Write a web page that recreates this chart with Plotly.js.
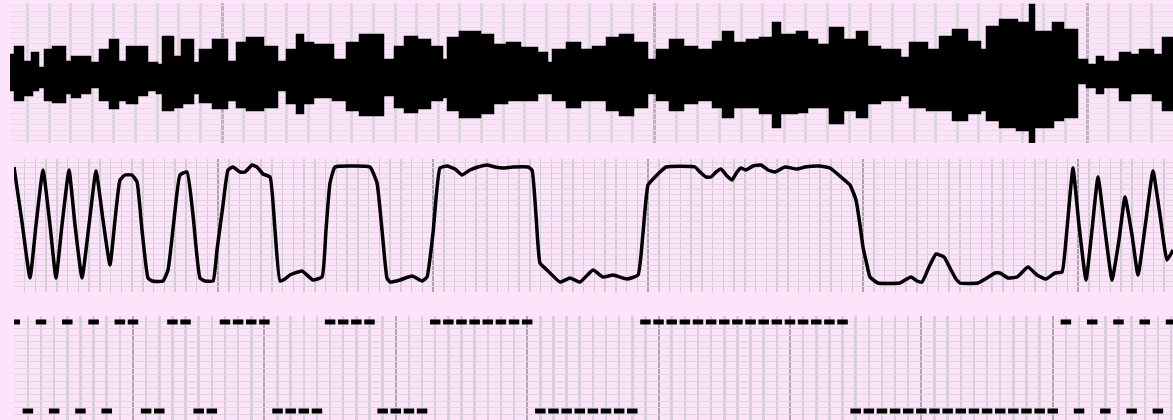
<!DOCTYPE html>
<html>
<head>
<meta charset="utf-8">
<script src="https://cdn.plot.ly/plotly-3.0.1.min.js"></script>
<style>
html,body{margin:0;padding:0;background:#fce4fb;}
#chart{width:1173px;height:420px;}
</style>
</head>
<body>
<div id="chart"></div>
<script>
// ---------- Panel 1: snoring / sound envelope (sample index, amplitude) ----------
const snoreT = [10,15,23,32,38,45,53,65,72,80,90,100,110,118,127,137,147,157,163,173,182,193,200,213,227,237,247,263,277,287,297,303,313,333,347,360,383,395,405,417,430,442,448,460,480,493,507,520,537,547,553,567,580,593,607,620,633,647,657,670,683,697,713,723,733,747,760,773,780,797,807,817,830,843,857,867,880,900,910,927,940,953,967,980,987,1000,1017,1030,1034,1053,1063,1077,1087,1097,1103,1120,1130,1140,1153,1163,1173];
const snoreUpper = [21,29,14,23,8,26,29,14,19,19,13,26,36,14,29,29,13,11,39,19,36,13,26,36,14,33,38,29,14,26,41,33,31,16,33,41,16,29,39,36,29,16,38,44,41,31,33,28,23,13,26,33,26,29,38,41,33,16,26,36,29,26,34,44,33,36,38,53,41,44,36,31,48,36,44,29,26,18,33,26,39,46,34,26,49,56,53,71,44,53,46,16,11,19,14,23,21,26,21,38,38];
const snoreLower = [-14,-24,-19,-14,-11,-24,-26,-17,-21,-17,-11,-24,-32,-24,-27,-19,-14,-17,-34,-31,-27,-17,-26,-32,-24,-31,-34,-31,-14,-27,-37,-27,-21,-24,-34,-39,-19,-31,-36,-32,-24,-21,-34,-41,-37,-27,-24,-24,-17,-17,-24,-31,-24,-24,-34,-39,-31,-17,-24,-34,-27,-24,-31,-41,-31,-31,-37,-51,-37,-36,-31,-31,-47,-34,-41,-27,-24,-19,-31,-34,-34,-44,-37,-34,-44,-51,-54,-67,-51,-44,-41,-7,-11,-17,-11,-24,-17,-17,-24,-34,-34];

// ---------- Panel 2: respiratory effort (sample index, level) ----------
const respT = [14,22,30,36,43,50,56,62,69,75,82,89,96,103,110,115,120,125,132,137,142,148,152,163,168,174,180,187,193,200,205,213,217,223,228,233,240,245,252,257,263,270,275,280,285,290,302,313,322,326,330,335,350,370,377,382,387,390,400,412,422,427,433,440,447,455,462,470,478,487,495,503,513,528,532,536,540,547,560,570,580,593,603,613,627,638,643,648,655,660,666,695,700,706,711,716,721,727,732,737,741,746,753,761,768,775,785,797,805,819,830,841,850,856,860,863,867,870,878,900,905,911,917,922,929,936,944,951,956,960,978,987,995,1000,1008,1017,1028,1037,1046,1055,1062,1066,1070,1073,1079,1086,1092,1098,1105,1112,1119,1125,1132,1138,1146,1153,1160,1167,1173];
const respLevel = [125,70,14,67,122,67,14,67,122,67,14,67,121,72,27,72,112,117,117,110,62,14,11,11,22,72,117,120,77,14,11,11,42,87,122,125,120,120,127,125,118,115,62,11,13,17,21,12,15,62,109,125,126,125,109,62,14,10,12,16,11,15,59,124,126,123,117,122,125,127,125,124,125,125,122,77,29,22,10,14,10,22,15,17,13,17,59,107,115,120,125,125,120,115,115,120,123,116,112,120,124,122,126,127,122,120,125,123,125,126,124,115,107,92,67,45,27,15,9,9,12,15,11,10,25,38,35,22,13,9,9,14,19,19,14,15,25,17,13,19,20,52,97,124,67,12,62,115,62,12,52,95,57,17,72,121,77,32,42];

// ---------- Panel 3: scored epochs (grid column index) ----------
const topEpochs = [1,3,5,7,9,10,13,14,17,18,19,20,25,26,27,28,33,34,35,36,37,38,39,40,49,50,51,52,53,54,55,56,57,58,59,60,61,62,63,64,81,83,85,87,89];
const bottomEpochs = [2,4,6,8,11,12,15,16,21,22,23,24,29,30,31,32,41,42,43,44,45,46,47,48,65,66,67,68,69,70,71,72,73,74,75,76,77,78,79,80,82,84,86,88];

const INK = '#000000';
const traces = [
  {x: snoreT, y: snoreLower, xaxis:'x', yaxis:'y', mode:'lines', line:{shape:'hv', color:INK, width:2.5}, hoverinfo:'skip'},
  {x: snoreT, y: snoreUpper, xaxis:'x', yaxis:'y', mode:'lines', fill:'tonexty', fillcolor:INK, line:{shape:'hv', color:INK, width:2.5}, hoverinfo:'skip'},
  {x: respT, y: respLevel, xaxis:'x2', yaxis:'y2', mode:'lines', line:{shape:'spline', smoothing:0.4, color:INK, width:3.5}, hoverinfo:'skip'},
  {x: topEpochs, y: topEpochs.map(()=>1), xaxis:'x3', yaxis:'y3', mode:'markers', marker:{symbol:'line-ew', size:7.5, line:{width:5, color:INK}}, hoverinfo:'skip'},
  {x: bottomEpochs, y: bottomEpochs.map(()=>0), xaxis:'x3', yaxis:'y3', mode:'markers', marker:{symbol:'line-ew', size:7.5, line:{width:5, color:INK}}, hoverinfo:'skip'}
];

function xax(domain, range, tick0, major, minor, majCol, majW, minCol, minW){
  return {domain, range, showticklabels:false, ticks:'', zeroline:false, showline:false, fixedrange:true,
    showgrid:true, tick0, dtick:major, gridcolor:majCol, gridwidth:majW,
    minor:{tick0, dtick:minor, showgrid:true, gridcolor:minCol, gridwidth:minW, ticks:''}};
}
function yax(domain, range, tick0, step, col, anchor){
  return {domain, range, anchor, showticklabels:false, ticks:'', zeroline:false, showline:false, fixedrange:true,
    showgrid:true, tick0, dtick:step, gridcolor:col, gridwidth:1};
}
const W = 1173, H = 420;
const layout = {
  width:W, height:H, margin:{l:0,r:0,t:0,b:0},
  paper_bgcolor:'#fce4fb', plot_bgcolor:'#fbe4f9', showlegend:false,
  xaxis:  Object.assign(xax([10/W,1],[10,1173],222,432.5,21.625,'#bdb5bd',3,'#ddd5dd',3),{anchor:'y'}),
  yaxis:  yax([(H-143)/H,(H-3)/H],[-67,73],0,5.4,'#eadbea','x'),
  xaxis2: Object.assign(xax([14/W,1],[14,1173],218,215,10.75,'#aca4ac',2,'#d3cbd3',1.5),{anchor:'y2'}),
  yaxis2: yax([(H-292)/H,(H-159)/H],[0,133],0,5.4,'#e3d3e3','x2'),
  xaxis3: Object.assign(xax([14/W,1],[0.944,89.15],0,10,1,'#b0a8b0',2,'#d8d0d8',2.5),{anchor:'y3'}),
  yaxis3: yax([0,(H-316)/H],[-0.101,1.067],1,0.0742,'#e3d3e3','x3')
};
Plotly.newPlot('chart', traces, layout, {staticPlot:true, displayModeBar:false});
</script>
</body>
</html>
